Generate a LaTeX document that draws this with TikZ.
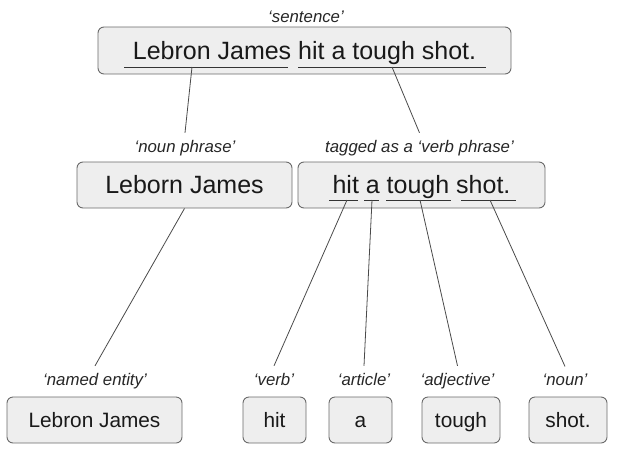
\documentclass[tikz,border=0pt]{standalone}
\usepackage{fontspec}
\setmainfont{Liberation Sans}
\usetikzlibrary{arrows,shapes}
\definecolor{boxfill}{HTML}{EEEEEE}
\definecolor{boxline}{HTML}{6A6A6A}
\definecolor{wirecol}{HTML}{4A4A4A}
\tikzstyle{pbox}=[rectangle,rounded corners=6pt,draw=boxline,fill=boxfill,line width=0.9pt,inner sep=0pt,text depth=0pt,text=black!90,minimum height=46pt]
\tikzstyle{bigbox}=[pbox,font=\fontsize{25}{30}\selectfont,text height=17.5pt]
\tikzstyle{smallbox}=[pbox,font=\fontsize{20.8}{25}\selectfont,text height=14.6pt]
\tikzstyle{tag}=[font=\fontsize{16.8}{20}\selectfont\itshape,text=black!85,inner sep=0pt,outer sep=7pt,anchor=base]
\tikzstyle{wire}=[draw=wirecol,line width=0.8pt]
\tikzstyle{uline}=[draw=black!80,line width=1pt]

\begin{document}
\begin{tikzpicture}[x=1pt,y=-1pt]
\useasboundingbox (0,0) rectangle (617,455);
\node[bigbox,minimum width=413pt,minimum height=47pt] (S) at (304.5,50.5) {Lebron James hit a tough shot.};
\node[tag] (lS) at (306,22.5) {‘sentence’};
\node[bigbox,minimum width=215pt] (NP) at (184.5,185) {Leborn James};
\node[bigbox,minimum width=247pt] (VP) at (421.5,185) {hit a tough shot.};
\node[tag] (lNP) at (185,152) {‘noun phrase’};
\node[tag] (lVP) at (419.5,152) {tagged as a ‘verb phrase’};
\node[smallbox,minimum width=175pt] (NE) at (94.5,420) {Lebron James};
\node[smallbox,minimum width=63pt] (V) at (274.5,420) {hit};
\node[smallbox,minimum width=63pt] (A) at (360.5,420) {a};
\node[smallbox,minimum width=78pt] (J) at (461,420) {tough};
\node[smallbox,minimum width=78pt] (N) at (568,420) {shot.};
\node[tag] (lNE) at (95,385) {‘named entity’};
\node[tag] (lV) at (274,385) {‘verb’};
\node[tag] (lA) at (364,385) {‘article’};
\node[tag] (lJ) at (457.5,385) {‘adjective’};
\node[tag] (lN) at (565,385) {‘noun’};
\coordinate (uLJ) at (192,67);
\coordinate (uVP) at (392,67);
\coordinate (uhit) at (347,200);
\coordinate (ua) at (372,200);
\coordinate (utough) at (420,200);
\coordinate (ushot) at (490,200);
\draw[uline] (124,67) -- (288,67);
\draw[uline] (298,67) -- (486,67);
\draw[uline] (329,200) -- (358,200);
\draw[uline] (364,200) -- (379,200);
\draw[uline] (386,200) -- (451,200);
\draw[uline] (461,200) -- (516,200);
\draw[wire] (uLJ) -- (lNP.north);
\draw[wire] (uVP) -- (lVP.north);
\draw[wire] (NP.south) -- (lNE.north);
\draw[wire] (uhit) -- (lV.north);
\draw[wire] (ua) -- (lA.north);
\draw[wire] (utough) -- (lJ.north);
\draw[wire] (ushot) -- (lN.north);
\end{tikzpicture}
\end{document}
